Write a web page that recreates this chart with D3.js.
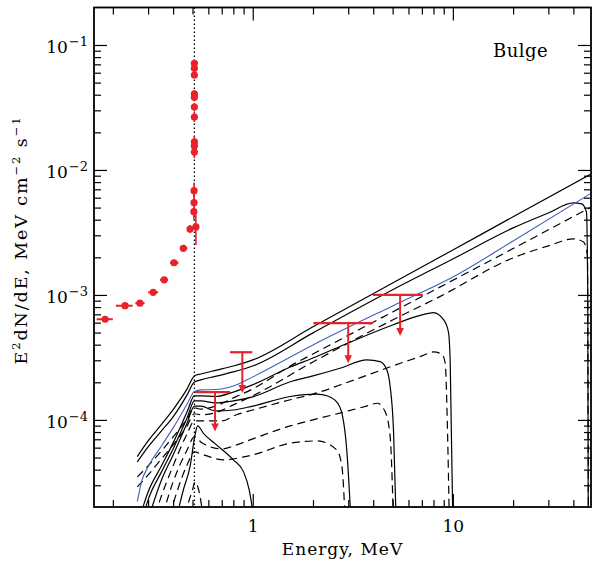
<!DOCTYPE html>
<html>
<head>
<meta charset="utf-8">
<script src="https://cdn.jsdelivr.net/npm/d3@7"></script>
<style>
  body { margin: 0; background: #fff; }
  text { font-family: "DejaVu Serif", "Liberation Serif", serif; fill: #000; }
</style>
</head>
<body>
<svg id="chart" width="592" height="561"></svg>
<script>
// ---- data ----
// low energy continuum points (E in MeV, E^2 dN/dE)
const contE   = [0.183, 0.23, 0.273, 0.318, 0.361, 0.404, 0.450];
const contF   = [6.39e-4, 8.2e-4, 8.6e-4, 1.05e-3, 1.32e-3, 1.81e-3, 2.36e-3];
const contElo = [0.166, 0.207, 0.259, 0.300, 0.344, 0.386, 0.433];
const contEhi = [0.200, 0.251, 0.288, 0.337, 0.378, 0.426, 0.471];

// points on the 511 keV line
const lineE   = [0.511, 0.511, 0.511, 0.511, 0.511, 0.511, 0.511, 0.511, 0.511, 0.511, 0.509, 0.509, 0.508, 0.486, 0.520];
const lineF   = [7.14e-2, 6.51e-2, 5.75e-2, 4.06e-2, 3.82e-2, 3.19e-2, 2.65e-2, 1.675e-2, 1.556e-2, 1.39e-2, 6.83e-3, 5.47e-3, 4.64e-3, 3.37e-3, 3.50e-3];
const lineFlo = [6.75e-2, 6.16e-2, 5.44e-2, 3.77e-2, 3.55e-2, 2.96e-2, 2.42e-2, 1.50e-2, 1.39e-2, 1.24e-2, 5.89e-3, 4.72e-3, 4.00e-3, 3.13e-3, 2.51e-3];
const lineFhi = [7.55e-2, 6.88e-2, 6.08e-2, 4.37e-2, 4.11e-2, 3.43e-2, 2.90e-2, 1.87e-2, 1.74e-2, 1.55e-2, 7.92e-3, 6.34e-3, 5.38e-3, 3.63e-3, 4.36e-3];

// upper limits
const ulE   = [0.648, 0.887, 3.0, 5.45];
const ulElo = [0.514, 0.77, 2.01, 3.98];
const ulEhi = [0.77, 0.995, 3.98, 7.08];
const ulF   = [1.67e-4, 3.48e-4, 5.94e-4, 1.0e-3];
const ulTip = [8.06e-5, 1.64e-4, 2.84e-4, 4.70e-4];

// model spectra, solid = total, dashed = in-flight part, [E, E^2 dN/dE]
const totalInf = [[0.265,5.09e-5],[0.3,6.79e-5],[0.35,9.20e-5],[0.4,1.21e-4],[0.47,1.77e-4],[0.511,2.25e-4],[0.55,2.33e-4],[0.65,2.49e-4],[0.8,2.70e-4],[1,3.02e-4],[2,5.56e-4],[5,1.245e-3],[10,2.29e-3],[20,4.22e-3],[50,9.44e-3]];
const total50  = [[0.265,4.61e-5],[0.3,6.08e-5],[0.35,8.17e-5],[0.4,1.057e-4],[0.47,1.585e-4],[0.511,2.01e-4],[0.55,2.09e-4],[0.65,2.23e-4],[0.8,2.42e-4],[1,2.70e-4],[2,4.97e-4],[5,1.10e-3],[10,1.94e-3],[20,3.44e-3],[30,4.53e-3],[40,5.45e-3],[44,5.35e-3],[46.5,4.61e-3],[47.2,1.0e-3],[47.5,1.0e-5]];
const total10  = [[0.275,1.74e-5],[0.3,2.65e-5],[0.35,4.29e-5],[0.4,6.55e-5],[0.47,1.16e-4],[0.511,1.56e-4],[0.55,1.56e-4],[0.65,1.54e-4],[0.8,1.67e-4],[1,1.91e-4],[1.54,2.65e-4],[2,3.13e-4],[3,4.13e-4],[5,5.75e-4],[7,6.92e-4],[8,7.22e-4],[9,6.31e-4],[9.5,5.06e-4],[9.7,2.86e-4],[10,1.5e-5]];
const total6   = [[0.285,1.74e-5],[0.3,2.29e-5],[0.35,3.84e-5],[0.4,5.86e-5],[0.47,1.04e-4],[0.511,1.42e-4],[0.55,1.42e-4],[0.65,1.37e-4],[0.8,1.42e-4],[1,1.53e-4],[1.54,2.02e-4],[2,2.25e-4],[2.73,2.59e-4],[3.72,3.02e-4],[4.33,2.93e-4],[4.68,2.51e-4],[4.86,1.85e-4],[5.05,8.32e-5],[5.21,1.5e-5]];
const total3   = [[0.305,1.74e-5],[0.35,3.31e-5],[0.4,5.25e-5],[0.47,9.46e-5],[0.511,1.29e-4],[0.55,1.29e-4],[0.65,1.18e-4],[0.8,1.20e-4],[1,1.29e-4],[1.54,1.54e-4],[2.1,1.61e-4],[2.35,1.56e-4],[2.63,1.39e-4],[2.8,1.10e-4],[2.95,5.75e-5],[3.1,1.5e-5]];
const total1   = [[0.41,1.5e-5],[0.45,2.75e-5],[0.486,4.23e-5],[0.515,7.59e-5],[0.53,8.95e-5],[0.57,7.73e-5],[0.65,6.43e-5],[0.8,4.79e-5],[0.9,3.84e-5],[0.96,2.75e-5],[1.02,1.5e-5]];
const blueModel = [[0.265,2.22e-5],[0.28,3.31e-5],[0.3,4.21e-5],[0.35,6.19e-5],[0.4,8.63e-5],[0.47,1.34e-4],[0.511,1.69e-4],[0.55,1.74e-4],[0.65,1.75e-4],[0.8,1.87e-4],[1,2.21e-4],[2,3.98e-4],[5,8.17e-4],[10,1.39e-3],[20,2.70e-3],[49,6.51e-3]];

const flightInf = [[0.265,3.50e-5],[0.3,4.29e-5],[0.35,5.65e-5],[0.4,7.31e-5],[0.47,1.02e-4],[0.511,1.25e-4],[0.55,1.22e-4],[0.65,1.29e-4],[0.8,1.50e-4],[1,1.77e-4],[1.54,2.70e-4],[2,3.37e-4],[5,7.31e-4],[10,1.31e-3],[20,2.35e-3],[50,5.13e-3]];
const flight50  = [[0.265,2.91e-5],[0.3,3.63e-5],[0.35,4.88e-5],[0.4,6.31e-5],[0.47,8.95e-5],[0.511,1.12e-4],[0.55,1.10e-4],[0.65,1.14e-4],[0.8,1.32e-4],[1,1.56e-4],[2,2.91e-4],[5,6.31e-4],[8.6,9.69e-4],[20,1.98e-3],[30,2.47e-3],[40,2.81e-3],[45,2.65e-3],[47,2.09e-3],[47.6,1.0e-5]];
const flight10  = [[0.325,1.74e-5],[0.35,2.47e-5],[0.4,4.29e-5],[0.47,7.73e-5],[0.511,9.82e-5],[0.55,9.82e-5],[0.7,9.82e-5],[0.83,1.10e-4],[1,1.20e-4],[1.54,1.45e-4],[2,1.61e-4],[3,2.01e-4],[5,2.70e-4],[7,3.25e-4],[8,3.50e-4],[8.8,3.37e-4],[9.15,2.86e-4],[9.4,8.3e-5],[9.6,1.5e-5]];
const flight6   = [[0.355,1.74e-5],[0.4,3.19e-5],[0.47,5.75e-5],[0.511,7.31e-5],[0.55,6.67e-5],[0.7,5.86e-5],[0.83,6.31e-5],[1,7.05e-5],[1.54,8.95e-5],[2,1.0e-4],[3,1.18e-4],[3.7,1.29e-4],[4.2,1.36e-4],[4.59,1.16e-4],[4.86,7.35e-5],[5.05,1.5e-5]];
const flight3   = [[0.385,1.74e-5],[0.47,4.37e-5],[0.511,5.55e-5],[0.55,5.35e-5],[0.72,4.79e-5],[0.9,5.06e-5],[1,5.25e-5],[1.54,6.51e-5],[2.1,6.79e-5],[2.63,5.75e-5],[2.79,4.23e-5],[2.9,1.5e-5]];
const flight1   = [[0.455,1.74e-5],[0.5,2.75e-5],[0.515,3.19e-5],[0.54,2.65e-5],[0.57,1.5e-5]];

const xMajor = [1, 10];
const yMajor = [1e-4, 1e-3, 1e-2, 1e-1];
const yExp   = ['\u22124', '\u22123', '\u22122', '\u22121'];

// ---- chart ----
const svg = d3.select('#chart');
const box = { left: 94, right: 591, top: 7.5, bottom: 507 };
const red = '#e8222a', blue = '#4262b8';

const x = d3.scaleLog().domain([0.161, 49.0]).range([box.left, box.right]);
const y = d3.scaleLog().domain([2.01e-5, 0.1995]).range([box.bottom, box.top]);

svg.append('clipPath').attr('id', 'plotclip')
  .append('rect').attr('x', box.left).attr('y', box.top)
  .attr('width', box.right - box.left).attr('height', box.bottom - box.top);

const plot = svg.append('g').attr('clip-path', 'url(#plotclip)');

// dotted line at 511 keV
plot.append('line')
  .attr('x1', x(0.511)).attr('x2', x(0.511))
  .attr('y1', box.top).attr('y2', box.bottom)
  .attr('stroke', '#000').attr('stroke-width', 1.3)
  .attr('stroke-dasharray', '1.4,2.6');

const line = d3.line()
  .x(d => x(d[0]))
  .y(d => y(d[1]))
  .curve(d3.curveMonotoneX);

const solids = [totalInf, total50, total10, total6, total3, total1];
const dashed = [flightInf, flight50, flight10, flight6, flight3, flight1];

plot.selectAll('path.flight')
  .data(dashed)
  .join('path')
  .attr('class', 'flight')
  .attr('d', line)
  .attr('fill', 'none')
  .attr('stroke', '#000')
  .attr('stroke-width', 1.2)
  .attr('stroke-dasharray', '8,5');

plot.selectAll('path.total')
  .data(solids)
  .join('path')
  .attr('class', 'total')
  .attr('d', line)
  .attr('fill', 'none')
  .attr('stroke', '#000')
  .attr('stroke-width', 1.2);

plot.append('path')
  .attr('d', line(blueModel))
  .attr('fill', 'none')
  .attr('stroke', blue)
  .attr('stroke-width', 1.1);

// upper limits
const ul = ulE.map((e, i) => ({ e, lo: ulElo[i], hi: ulEhi[i], f: ulF[i], tip: ulTip[i] }));
const ulg = plot.append('g').attr('stroke', red).attr('fill', red);
ulg.selectAll('line.bar').data(ul).join('line')
  .attr('class', 'bar')
  .attr('x1', d => x(d.lo)).attr('x2', d => x(d.hi))
  .attr('y1', d => y(d.f)).attr('y2', d => y(d.f))
  .attr('stroke-width', 2.2);
ulg.selectAll('line.stem').data(ul).join('line')
  .attr('class', 'stem')
  .attr('x1', d => x(d.e)).attr('x2', d => x(d.e))
  .attr('y1', d => y(d.f)).attr('y2', d => y(d.tip) - 6)
  .attr('stroke-width', 2);
ulg.selectAll('path.head').data(ul).join('path')
  .attr('class', 'head')
  .attr('stroke', 'none')
  .attr('d', d => {
    const cx = x(d.e), ty = y(d.tip);
    return `M${cx - 3.8},${ty - 8}L${cx + 3.8},${ty - 8}L${cx},${ty}Z`;
  });

// data points
const pts = plot.append('g');
const cont = contE.map((e, i) => ({ e, f: contF[i], lo: contElo[i], hi: contEhi[i] }));
pts.selectAll('line.xerr').data(cont).join('line')
  .attr('class', 'xerr')
  .attr('x1', d => x(d.lo)).attr('x2', d => x(d.hi))
  .attr('y1', d => y(d.f)).attr('y2', d => y(d.f))
  .attr('stroke', red).attr('stroke-width', 2);

const lp = lineE.map((e, i) => ({ e, f: lineF[i], lo: lineFlo[i], hi: lineFhi[i] }));
pts.selectAll('line.yerr').data(lp).join('line')
  .attr('class', 'yerr')
  .attr('x1', d => x(d.e)).attr('x2', d => x(d.e))
  .attr('y1', d => y(d.lo)).attr('y2', d => y(d.hi))
  .attr('stroke', red).attr('stroke-width', 1.6);

pts.selectAll('circle').data(cont.concat(lp)).join('circle')
  .attr('cx', d => x(d.e)).attr('cy', d => y(d.f))
  .attr('r', 3.6).attr('fill', red);

// ---- axes, ticks on all four sides pointing inward ----
const xMinor = x.ticks().filter(v => !xMajor.includes(v));
const yMinor = y.ticks().filter(v => !yMajor.some(m => Math.abs(m - v) / m < 1e-6));
const majLen = 13, minLen = 7;

function tickAxis(axisFn, scale, values, len, pos, fmt) {
  const g = svg.append('g')
    .attr('transform', pos)
    .call(axisFn(scale).tickValues(values).tickSize(-len).tickPadding(13).tickFormat(fmt || (() => '')));
  g.select('.domain').remove();
  g.selectAll('.tick line').attr('stroke', '#000').attr('stroke-width', 1.2);
  return g;
}

tickAxis(d3.axisBottom, x, xMinor, minLen, `translate(0,${box.bottom})`);
const xg = tickAxis(d3.axisBottom, x, xMajor, majLen, `translate(0,${box.bottom})`, d3.format('d'));
xg.selectAll('text').attr('font-size', 17).attr('font-family', '"DejaVu Serif", serif');
tickAxis(d3.axisTop, x, xMinor, minLen, `translate(0,${box.top})`);
tickAxis(d3.axisTop, x, xMajor, majLen, `translate(0,${box.top})`);

tickAxis(d3.axisLeft, y, yMinor, minLen, `translate(${box.left},0)`);
const yg = tickAxis(d3.axisLeft, y, yMajor, majLen, `translate(${box.left},0)`, () => 'x');
yg.selectAll('.tick text')
  .attr('x', -6).attr('dy', '0.45em')
  .attr('font-size', 17).attr('font-family', '"DejaVu Serif", serif')
  .each(function (d, i) {
    const t = d3.select(this).text('');
    t.append('tspan').text('10');
    t.append('tspan').attr('font-size', 13).attr('dy', -7).attr('dx', 1).text(yExp[i]);
  });
tickAxis(d3.axisRight, y, yMinor, minLen, `translate(${box.right},0)`);
tickAxis(d3.axisRight, y, yMajor, majLen, `translate(${box.right},0)`);

// frame
svg.append('rect')
  .attr('x', box.left).attr('y', box.top)
  .attr('width', box.right - box.left).attr('height', box.bottom - box.top)
  .attr('fill', 'none').attr('stroke', '#000').attr('stroke-width', 1.8);

// labels
svg.append('text')
  .attr('x', (box.left + box.right) / 2).attr('y', 555)
  .attr('text-anchor', 'middle').attr('font-size', 17)
  .attr('letter-spacing', 1)
  .text('Energy,  MeV');

const yl = svg.append('text')
  .attr('transform', 'translate(27,240) rotate(-90)')
  .attr('text-anchor', 'middle').attr('font-size', 17.5)
  .attr('letter-spacing', 1.9);
yl.append('tspan').text('E');
yl.append('tspan').attr('font-size', 11.5).attr('dy', -7).text('2');
yl.append('tspan').attr('dy', 7).text('dN/dE,  MeV  cm');
yl.append('tspan').attr('font-size', 11.5).attr('dy', -7).text('\u22122');
yl.append('tspan').attr('dy', 7).text('  s');
yl.append('tspan').attr('font-size', 11.5).attr('dy', -7).text('\u22121');

svg.append('text')
  .attr('x', 493).attr('y', 57)
  .attr('font-size', 18)
  .attr('letter-spacing', 0.5)
  .text('Bulge');
</script>
</body>
</html>
